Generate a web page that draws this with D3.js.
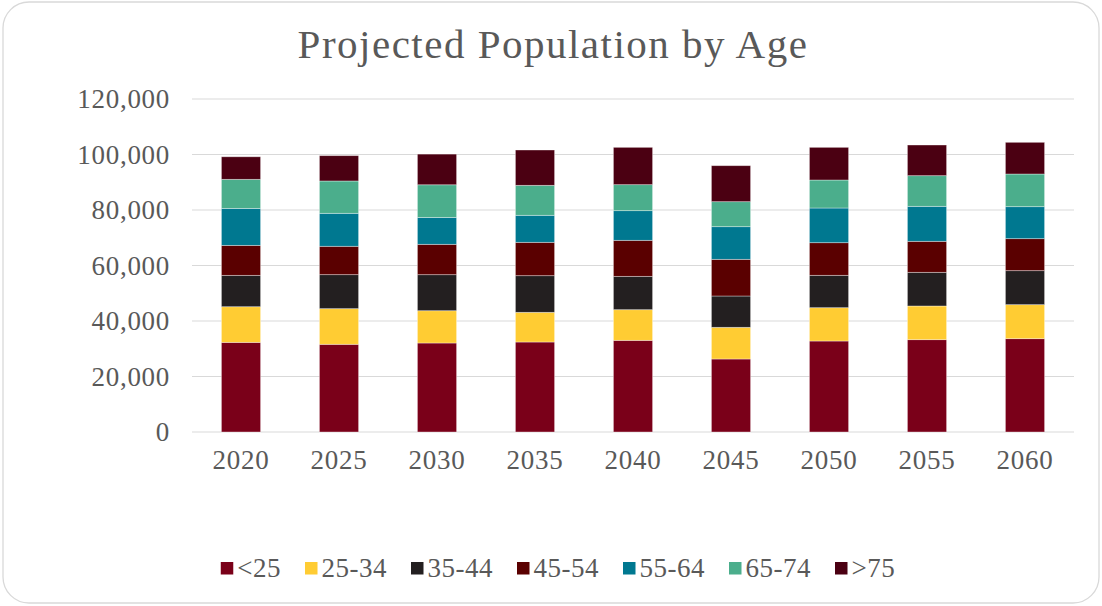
<!DOCTYPE html>
<html lang="en">
<head>
<meta charset="utf-8">
<title>Projected Population by Age</title>
<script src="https://d3js.org/d3.v7.min.js"></script>
<style>
  body { margin: 0; background: #fff; }
  text { font-family: "Liberation Serif", "DejaVu Serif", serif; fill: #595959; }
</style>
</head>
<body>
<svg id="chart" width="1102" height="606"></svg>
<script>
// data
var years = ["2020", "2025", "2030", "2035", "2040", "2045", "2050", "2055", "2060"];
var groups = ["<25", "25-34", "35-44", "45-54", "55-64", "65-74", ">75"];
var under25 = [32300, 31600, 32070, 32430, 33030, 26310, 32790, 33270, 33630];
var age25_34 = [12850, 12850, 11640, 10700, 11050, 11410, 12010, 12140, 12260];
var age35_44 = [11300, 12250, 12980, 13200, 12010, 11290, 11660, 12130, 12250];
var age45_54 = [10800, 10220, 10940, 12020, 12980, 13210, 11760, 11170, 11530];
var age55_64 = [13330, 11890, 9680, 9740, 10690, 11770, 12500, 12610, 11530];
var age65_74 = [10470, 11650, 11780, 10800, 9370, 9010, 10090, 11050, 11770];
var over75 = [8130, 9120, 11050, 12730, 13450, 12970, 11770, 11050, 11420];
var yTicks = [0, 20000, 40000, 60000, 80000, 100000, 120000];

var colors = ["#7a0019", "#ffcc33", "#231f20", "#5a0000", "#007890", "#4bae8c", "#4b0012"];
var series = [under25, age25_34, age35_44, age45_54, age55_64, age65_74, over75];

// build rows for d3.stack
var rows = years.map(function(y, i) {
  var r = {year: y};
  groups.forEach(function(g, j) { r[g] = series[j][i]; });
  return r;
});

var svg = d3.select("#chart");

// outer frame
svg.append("rect")
  .attr("x", 3).attr("y", 2)
  .attr("width", 1096).attr("height", 601)
  .attr("rx", 26).attr("ry", 26)
  .attr("fill", "#fff")
  .attr("stroke", "#d9d9d9")
  .attr("stroke-width", 1.3);

var x = d3.scaleBand().domain(years).range([192, 1074]).paddingInner(0.6).paddingOuter(0.3);
var y = d3.scaleLinear().domain([0, 120000]).range([432, 99]);

// title
svg.append("text")
  .attr("x", 553).attr("y", 58)
  .attr("text-anchor", "middle")
  .style("font-size", "41px")
  .style("letter-spacing", "1.5px")
  .text("Projected Population by Age");

// gridlines
svg.append("g")
  .selectAll("line")
  .data(yTicks)
  .enter()
  .append("line")
    .attr("x1", 192).attr("x2", 1074)
    .attr("y1", function(d) { return y(d); })
    .attr("y2", function(d) { return y(d); })
    .attr("stroke", "#d9d9d9")
    .attr("stroke-width", 1.2);

// y axis labels
var yAxis = svg.append("g")
  .attr("transform", "translate(170,0)")
  .call(d3.axisLeft(y).tickValues(yTicks).tickSize(0).tickPadding(0).tickFormat(d3.format(",")));
yAxis.select(".domain").remove();
yAxis.selectAll("text")
  .style("font-size", "27px")
  .style("letter-spacing", "0.7px")
  .attr("fill", "#595959");

// stacked bars
var stacked = d3.stack().keys(groups)(rows);

svg.append("g")
  .selectAll("g")
  .data(stacked)
  .enter()
  .append("g")
    .attr("fill", function(d, i) { return colors[i]; })
  .selectAll("rect")
  .data(function(d) { return d; })
  .enter()
  .append("rect")
    .attr("x", function(d) { return x(d.data.year); })
    .attr("y", function(d) { return y(d[1]); })
    .attr("width", x.bandwidth())
    .attr("height", function(d) { return y(d[0]) - y(d[1]); })
    .attr("stroke", "#fff")
    .attr("stroke-opacity", 0.45)
    .attr("stroke-width", 0.8);

// x axis labels
var xAxis = svg.append("g")
  .attr("transform", "translate(0,432)")
  .call(d3.axisBottom(x).tickSize(0).tickPadding(0));
xAxis.select(".domain").remove();
xAxis.selectAll("text")
  .attr("dy", null)
  .attr("y", 37)
  .style("font-size", "27px")
  .style("letter-spacing", "0.7px")
  .attr("fill", "#595959");

// legend
var legend = svg.append("g");
var items = legend.selectAll("g")
  .data(groups)
  .enter()
  .append("g");
items.append("rect")
  .attr("width", 12.5).attr("height", 12.5)
  .attr("y", 562)
  .attr("fill", function(d, i) { return colors[i]; });
items.append("text")
  .attr("x", 16.5).attr("y", 576.5)
  .style("font-size", "27px")
  .style("letter-spacing", "0.5px")
  .text(function(d) { return d; });

var pos = 0;
var offsets = [];
items.each(function() {
  offsets.push(pos);
  pos += 16.5 + d3.select(this).select("text").node().getComputedTextLength() + 24;
});
var total = pos - 24;
var start = 558 - total / 2;
items.attr("transform", function(d, i) { return "translate(" + (start + offsets[i]) + ",0)"; });
</script>
</body>
</html>
